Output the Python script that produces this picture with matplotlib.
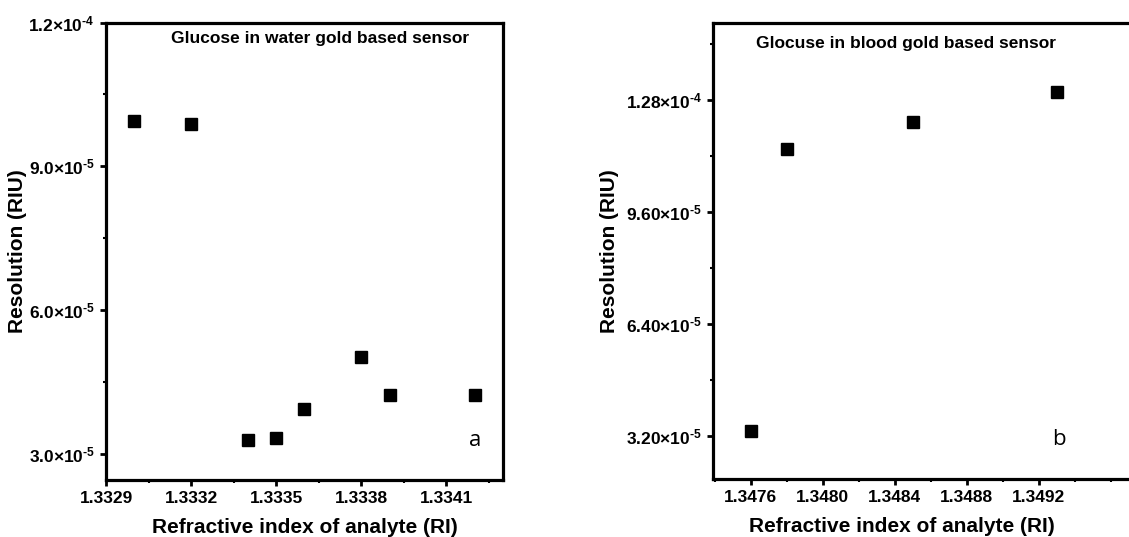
import matplotlib
matplotlib.use("Agg")
import matplotlib.pyplot as plt
from matplotlib.ticker import MultipleLocator, FixedLocator

plt.rcParams['font.family'] = ['Liberation Sans', 'DejaVu Sans']
plt.rcParams['mathtext.fontset'] = 'custom'
plt.rcParams['mathtext.rm'] = 'Liberation Sans:bold'
plt.rcParams['mathtext.bf'] = 'Liberation Sans:bold'
plt.rcParams['mathtext.default'] = 'bf'

# Glucose in water
ri_water = [1.3330, 1.3332, 1.3334, 1.3335, 1.3336, 1.3338, 1.3339, 1.3342]
res_water = [9.94e-5, 9.89e-5, 3.29e-5, 3.33e-5, 3.95e-5, 5.02e-5, 4.24e-5, 4.24e-5]
water_xticks = [1.3329, 1.3332, 1.3335, 1.3338, 1.3341]
water_yticks = [3.0e-5, 6.0e-5, 9.0e-5, 1.2e-4]
water_ylabels = [r'3.0×10$^{\text{-}5}$', r'6.0×10$^{\text{-}5}$',
                 r'9.0×10$^{\text{-}5}$', r'1.2×10$^{\text{-}4}$']

# Glucose in blood
ri_blood = [1.3476, 1.3478, 1.3485, 1.3493]
res_blood = [3.33e-5, 1.139e-4, 1.218e-4, 1.302e-4]
blood_xticks = [1.3476, 1.3480, 1.3484, 1.3488, 1.3492]
blood_yticks = [3.2e-5, 6.4e-5, 9.6e-5, 1.28e-4]
blood_ylabels = [r'3.20×10$^{\text{-}5}$', r'6.40×10$^{\text{-}5}$',
                 r'9.60×10$^{\text{-}5}$', r'1.28×10$^{\text{-}4}$']

fig = plt.figure(figsize=(11.29, 5.37), dpi=100)
ax1 = fig.add_axes([0.0939, 0.1061, 0.3516, 0.8519])
ax2 = fig.add_axes([0.6313, 0.108, 0.3767, 0.8486])


def style(ax):
    for s in ax.spines.values():
        s.set_linewidth(2.3)
    ax.tick_params(which='major', direction='out', length=4, width=2,
                   labelsize=12.5, pad=4)
    ax.tick_params(which='minor', direction='out', length=2.5, width=1.5)
    for lbl in ax.get_xticklabels() + ax.get_yticklabels():
        lbl.set_fontweight('bold')
    ax.set_xlabel("Refractive index of analyte (RI)", fontsize=15,
                  fontweight='bold')
    ax.set_ylabel("Resolution (RIU)", fontsize=15, fontweight='bold')


# panel a
ax1.plot(ri_water, res_water, 's', color='black', markersize=8)
ax1.set_xlim(1.3329, 1.33430)
ax1.set_ylim(2.46e-5, 1.2e-4)
ax1.set_xticks(water_xticks)
ax1.set_xticklabels([f"{v:.4f}" for v in water_xticks])
ax1.xaxis.set_minor_locator(MultipleLocator(0.00015))
ax1.set_yticks(water_yticks)
ax1.set_yticklabels(water_ylabels)
ax1.yaxis.set_minor_locator(FixedLocator([4.5e-5, 7.5e-5, 1.05e-4]))
style(ax1)
ax1.yaxis.set_label_coords(-0.198, 0.5)
ax1.xaxis.set_label_coords(0.5, -0.083)
ax1.text(0.539, 0.966, "Glucose in water gold based sensor", transform=ax1.transAxes,
         ha='center', va='center', fontsize=12.5, fontweight='bold')
ax1.text(0.929, 0.086, "a", transform=ax1.transAxes, ha='center', va='center',
         fontsize=16, family='Open Sans')

# panel b
ax2.plot(ri_blood, res_blood, 's', color='black', markersize=8)
ax2.set_xlim(1.34739, 1.34975)
ax2.set_ylim(1.96e-5, 1.499e-4)
ax2.set_xticks(blood_xticks)
ax2.set_xticklabels([f"{v:.4f}" for v in blood_xticks])
ax2.xaxis.set_minor_locator(MultipleLocator(0.0002))
ax2.set_yticks(blood_yticks)
ax2.set_yticklabels(blood_ylabels)
ax2.yaxis.set_minor_locator(FixedLocator([4.8e-5, 8.0e-5, 1.12e-4, 1.44e-4]))
style(ax2)
ax2.yaxis.set_label_coords(-0.22, 0.5)
ax2.xaxis.set_label_coords(0.445, -0.083)
ax2.text(0.454, 0.955, "Glocuse in blood gold based sensor", transform=ax2.transAxes,
         ha='center', va='center', fontsize=12.5, fontweight='bold')
ax2.text(0.814, 0.086, "b", transform=ax2.transAxes, ha='center', va='center',
         fontsize=16, family='Open Sans')

fig.savefig("out.png", dpi=100)
